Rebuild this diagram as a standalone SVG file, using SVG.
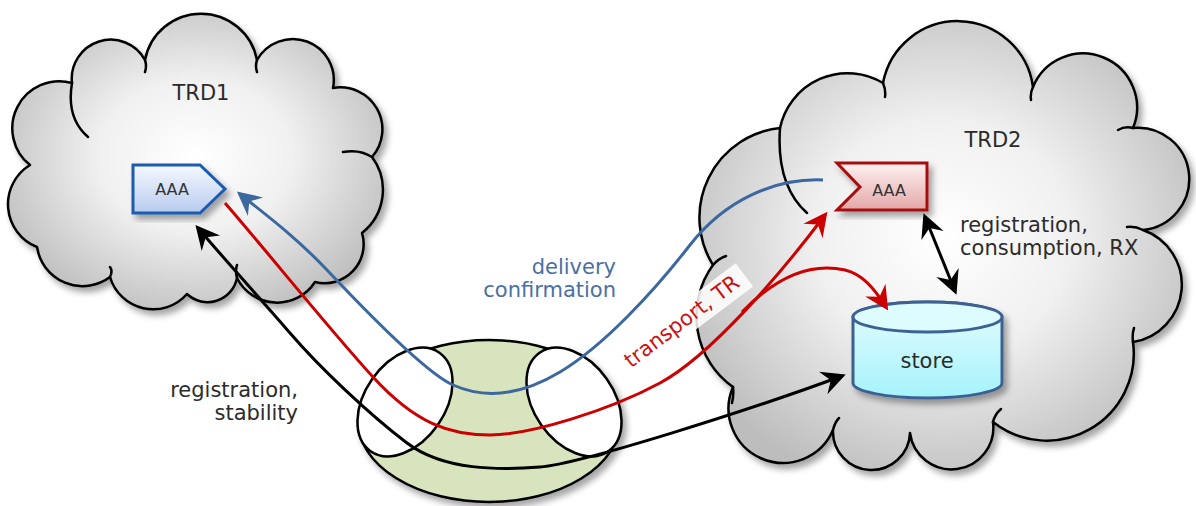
<svg xmlns="http://www.w3.org/2000/svg" width="1196" height="506" viewBox="0 0 1196 506">
<defs>
<style>
.cloud{fill:url(#cloudGrad);stroke:#000;stroke-width:2.5;stroke-linejoin:round}
.hook{fill:none;stroke:#000;stroke-width:2.5;stroke-linecap:round}
.txt{font-family:"DejaVu Sans",Verdana,sans-serif;font-size:21px;fill:#2b2b2b}
.small{font-size:16px;fill:#333}
.conn{fill:none;stroke-width:3}
.blue{stroke:#3b689e}
.red{stroke:#cc0000}
.black{stroke:#000}
.ell{stroke:#000;stroke-width:2.5}
</style>
<radialGradient id="cloudGrad" cx="50%" cy="48%" r="58%">
<stop offset="0" stop-color="#ffffff"/>
<stop offset="0.45" stop-color="#f0f0f0"/>
<stop offset="1" stop-color="#bdbdbd"/>
</radialGradient>
<linearGradient id="blueGrad" x1="0" y1="0" x2="0" y2="1">
<stop offset="0" stop-color="#f5f8ff"/>
<stop offset="1" stop-color="#b7cbee"/>
</linearGradient>
<linearGradient id="redGrad" x1="0" y1="0" x2="0" y2="1">
<stop offset="0" stop-color="#fdf1f1"/>
<stop offset="1" stop-color="#e4a7a7"/>
</linearGradient>
<linearGradient id="cyanGrad" x1="0" y1="0" x2="0" y2="1">
<stop offset="0" stop-color="#e4fcff"/>
<stop offset="1" stop-color="#a6f3fb"/>
</linearGradient>
<filter id="shadow" x="-10%" y="-10%" width="125%" height="130%">
<feDropShadow dx="4" dy="5" stdDeviation="3" flood-color="#000" flood-opacity="0.35"/>
</filter>
<marker id="ahBlack" markerUnits="userSpaceOnUse" viewBox="-30 -20 40 40" markerWidth="40" markerHeight="40" refX="0" refY="0" orient="auto-start-reverse" overflow="visible">
<path d="M4,0 L-20,-12 L-12,0 L-20,12 Z" fill="#000"/>
</marker>
<marker id="ahRed" markerUnits="userSpaceOnUse" viewBox="-30 -20 40 40" markerWidth="40" markerHeight="40" refX="0" refY="0" orient="auto" overflow="visible">
<path d="M4,0 L-20,-12 L-12,0 L-20,12 Z" fill="#cc0000"/>
</marker>
<marker id="ahBlue" markerUnits="userSpaceOnUse" viewBox="-30 -20 40 40" markerWidth="40" markerHeight="40" refX="0" refY="0" orient="auto" overflow="visible">
<path d="M4,0 L-20,-12 L-12,0 L-20,12 Z" fill="#3b689e"/>
</marker>
</defs>
<rect width="1196" height="506" fill="#fff"/>

<g id="trd1">
<path class="cloud" filter="url(#shadow)" d="M72,83 A39,39 0 0 1 145,60 A57,57 0 0 1 257,60 A41,41 0 0 1 333,88 A42,42 0 0 1 372,157 A55,55 0 0 1 362,233 A39,39 0 0 1 315,282 A45,45 0 0 1 237,278 A30,30 0 0 1 187,294 A45,45 0 0 1 110,277 A46,46 0 0 1 37,247 A46,46 0 0 1 30,165 A47,47 0 0 1 72,83 Z"/>
<path class="hook" d="M72,83 Q66,118 88,137 M145,60 q2,6 0,12 M257,60 q-2,6 0,12 M343,152 Q360,149 372,157 M237,278 q-2,-7 0,-13 M110,277 q3,-6 0,-10"/>
<text class="txt" x="201" y="100" text-anchor="middle">TRD1</text>
</g>

<g id="trd2">
<path class="cloud" filter="url(#shadow)" d="M713,265 A90,90 0 0 1 780,128 A69,69 0 0 1 883,83 A76,76 0 0 1 1033,87 A54,54 0 0 1 1133,128 A51,51 0 0 1 1143,230 A58,58 0 0 1 1133,342 A87,87 0 0 1 993,422 A40,40 0 0 1 910,433 A38,38 0 0 1 833,430 A50,50 0 0 1 733,387 A87,87 0 0 1 713,265 Z"/>
<path class="hook" d="M780,128 Q776,185 807,213 M883,83 q3,7 2,14 M1033,87 q-3,6 -2,13 M1133,128 q-8,-2 -15,2 M1143,230 q-8,-4 -16,-3 M1133,342 q-1,-8 1,-14 M993,422 q2,-8 8,-13 M833,430 q2,-8 6,-12 M733,387 q1,8 -1,16 M713,265 q5,-6 13,-9"/>
<text class="txt" x="993" y="147" text-anchor="middle">TRD2</text>
</g>

<g id="network" filter="url(#shadow)">
<ellipse cx="489" cy="421" rx="131" ry="81" fill="#d7e4bd" class="ell"/>
<ellipse cx="405" cy="402" rx="60" ry="40" transform="rotate(-55 405 402)" fill="#fff" class="ell"/>
<ellipse cx="574" cy="402" rx="60" ry="40" transform="rotate(55 574 402)" fill="#fff" class="ell"/>
</g>

<g id="aaa-trd1">
<path d="M133,165 L200,165 L225,189 L200,213 L133,213 Z" fill="url(#blueGrad)" stroke="#1c5cb0" stroke-width="3" stroke-linejoin="miter" filter="url(#shadow)"/>
<text class="txt small" x="172" y="195" text-anchor="middle">AAA</text>
</g>

<g id="aaa-trd2">
<path d="M837,163 L927,163 L927,210 L837,210 L860,187 Z" fill="url(#redGrad)" stroke="#a80f0f" stroke-width="3" filter="url(#shadow)"/>
<text class="txt small" x="889" y="196" text-anchor="middle">AAA</text>
</g>

<g id="store">
<path d="M853,317 V383 A74.5,15 0 0 0 1002,383 V317 A74.5,15 0 0 0 853,317 Z" fill="url(#cyanGrad)" stroke="#3d6192" stroke-width="3" filter="url(#shadow)"/>
<ellipse cx="927.5" cy="317" rx="74.5" ry="15" fill="#dcfcff" stroke="#3d6192" stroke-width="3"/>
<text class="txt" x="927" y="368" text-anchor="middle">store</text>
</g>

<g id="transport-label-bg">
<rect x="-78" y="-21" width="156" height="29" fill="#fff" fill-opacity="0.85" transform="translate(686,327) rotate(-37)"/>
</g>

<g id="connectors">
<path class="conn blue" marker-end="url(#ahBlue)" d="M823,180 C775,178 725,200 690,245 C655,290 605,345 560,372 C515,399 480,397 453,385 C426,373 360,305 327,270 C294,235 262,212 240,194"/>
<path class="conn red" marker-end="url(#ahRed)" d="M225,203 C270,255 330,330 373,377 C416,424 450,435 490,435 C530,435 610,410 660,383 C710,356 780,275 825,215"/>
<path class="conn red" marker-end="url(#ahRed)" d="M742,312 C775,278 810,262 845,270 C862,274 874,288 886,307"/>
<path class="conn black" marker-start="url(#ahBlack)" marker-end="url(#ahBlack)" d="M198,228 C225,260 260,298 290,333 C320,368 370,415 407,443 C444,471 500,470 540,467 C580,464 750,410 842,376"/>
<path class="conn black" stroke-width="4" marker-start="url(#ahBlack)" marker-end="url(#ahBlack)" d="M925,217 L955,291"/>
<text class="txt" x="298" y="397" text-anchor="end">registration,</text>
<text class="txt" x="298" y="420" text-anchor="end">stability</text>
<text class="txt" x="616" y="274" text-anchor="end" style="fill:#4a70a4">delivery</text>
<text class="txt" x="616" y="297" text-anchor="end" style="fill:#4a70a4">confirmation</text>
<text class="txt" x="0" y="0" text-anchor="middle" transform="translate(686,327) rotate(-37)" style="fill:#cc1111">transport, TR</text>
<text class="txt" x="960" y="232">registration,</text>
<text class="txt" x="960" y="255">consumption, RX</text>
</g>
</svg>
